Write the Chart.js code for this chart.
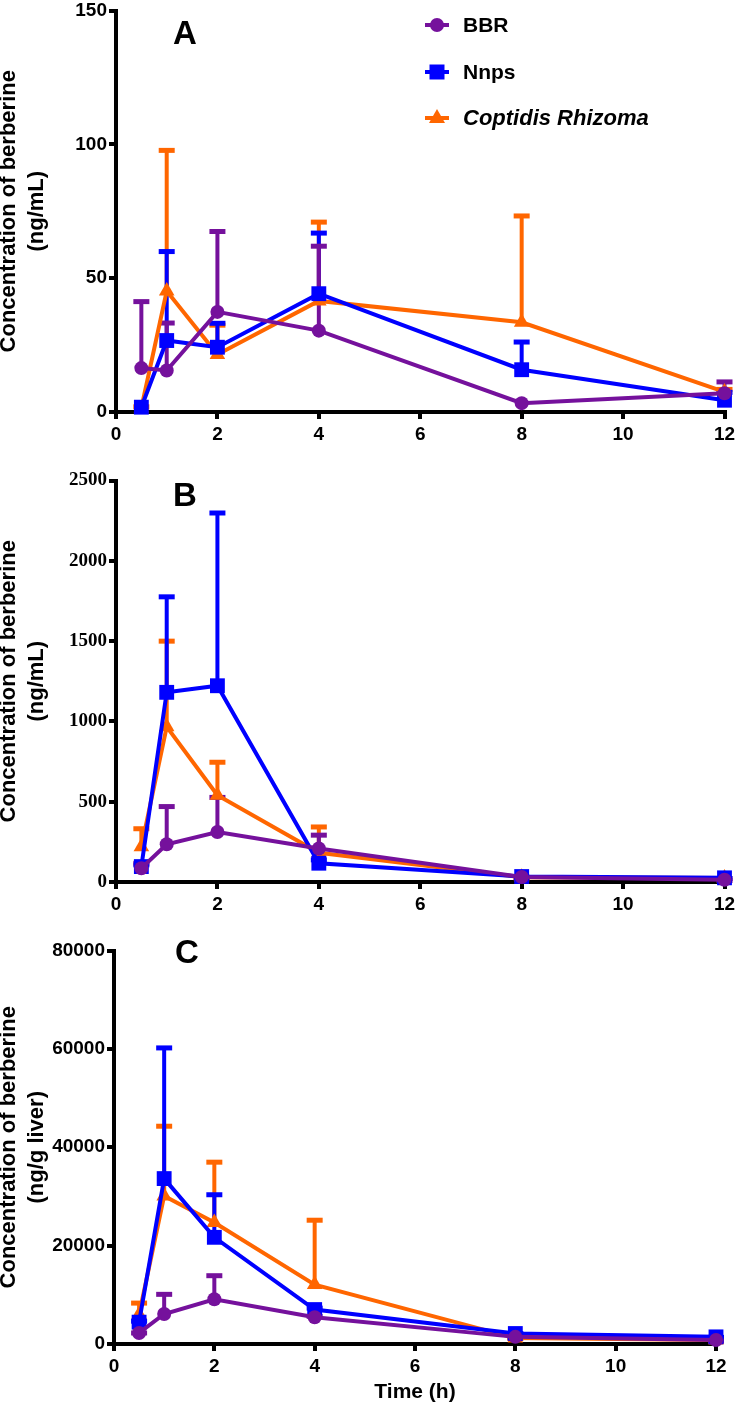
<!DOCTYPE html>
<html>
<head>
<meta charset="utf-8">
<script src="https://cdn.jsdelivr.net/npm/chart.js@4.4.0/dist/chart.umd.min.js"></script>
<style>
  body { margin: 0; background: #fff; }
  canvas { position: absolute; left: 0; }
</style>
</head>
<body>
<canvas id="panelA" width="735" height="450" style="top:0"></canvas>
<canvas id="panelB" width="735" height="450" style="top:470px"></canvas>
<canvas id="panelC" width="735" height="465" style="top:940px"></canvas>
<script>
// tiempos de muestreo (h)
var tiempos = [0.5, 1, 2, 4, 8, 12];

var nombres = ['BBR', 'Nnps', 'Coptidis Rhizoma'];
var colores = ['#75119c', '#0000ff', '#ff6600'];

// Panel A - plasma (ng/mL): medias y desviaciones (solo hacia arriba)
var bbrA = [16.4, 15.5, 37.4, 30.4, 3.3, 7.0];
var bbrA_sd = [25.4, 18.3, 30.6, 32.1, 0, 4.8];
var nnpsA = [1.8, 26.7, 24.2, 44.2, 15.8, 4.4];
var nnpsA_sd = [0, 33.8, 9.5, 23.2, 10.9, 3.5];
var coptA = [1.5, 45.2, 21.5, 41.5, 33.5, 7.5];
var coptA_sd = [1, 53.1, 11.5, 30, 40.3, 1.5];

// Panel B - plasma (ng/mL)
var bbrB = [86, 235, 311, 209, 31, 14];
var bbrB_sd = [40, 244, 225, 92, 5, 5];
var nnpsB = [96, 1181, 1222, 117, 34, 26];
var nnpsB_sd = [20, 604, 1085, 30, 5, 5];
var coptB = [219, 966, 540, 182, 30, 25];
var coptB_sd = [122, 543, 215, 170, 5, 5];

// Panel C - higado (ng/g liver)
var bbrC = [2250, 6100, 9090, 5430, 1450, 800];
var bbrC_sd = [300, 4300, 5100, 500, 200, 100];
var nnpsC = [4440, 33630, 21690, 7000, 2130, 1450];
var nnpsC_sd = [500, 26870, 8960, 600, 300, 200];
var coptC = [6000, 30100, 24680, 12080, 1200, 800];
var coptC_sd = [2620, 14480, 12590, 13390, 200, 100];

var estilosPunto = ['circle', 'rect', 'triangle'];
var radiosPunto = [7, 10.5, 9];

var SANS = '"Liberation Sans", Arial, sans-serif';

// Barras de error (solo superiores)
var barrasError = {
    id: 'barrasError',
    beforeDatasetsDraw: function (chart) {
        var ctx = chart.ctx;
        var sx = chart.scales.x, sy = chart.scales.y;
        for (var i = chart.data.datasets.length - 1; i >= 0; i--) {
            var ds = chart.data.datasets[i];
            ctx.save();
            ctx.strokeStyle = ds.borderColor;
            ds.data.forEach(function (p, j) {
                var sd = ds.sd[j];
                if (!sd) return;
                var px = sx.getPixelForValue(p.x);
                var y0 = sy.getPixelForValue(p.y);
                var y1 = sy.getPixelForValue(p.y + sd);
                ctx.lineWidth = 4;
                ctx.beginPath();
                ctx.moveTo(px, y0);
                ctx.lineTo(px, y1);
                ctx.stroke();
                ctx.lineWidth = 5;
                ctx.beginPath();
                ctx.moveTo(px - 8, y1 + 1.5);
                ctx.lineTo(px + 8, y1 + 1.5);
                ctx.stroke();
            });
            ctx.restore();
        }
    }
};

function dibujarMarcador(ctx, estilo, x, y, color) {
    ctx.fillStyle = color;
    ctx.beginPath();
    if (estilo === 'circle') {
        ctx.arc(x, y, 7, 0, Math.PI * 2);
    } else if (estilo === 'rect') {
        ctx.rect(x - 7.5, y - 7.5, 15, 15);
    } else {
        ctx.moveTo(x, y - 9);
        ctx.lineTo(x + 8, y + 5);
        ctx.lineTo(x - 8, y + 5);
        ctx.closePath();
    }
    ctx.fill();
}

// Letra del panel y leyenda
var textosPanel = {
    id: 'textosPanel',
    afterDraw: function (chart, args, opts) {
        var ctx = chart.ctx;
        ctx.save();
        ctx.fillStyle = '#000';
        ctx.font = 'bold 33px ' + SANS;
        ctx.textAlign = 'center';
        ctx.textBaseline = 'alphabetic';
        ctx.fillText(opts.letra, opts.lx, opts.ly);
        if (opts.leyenda) {
            var filas = [25, 72, 118];
            ctx.textBaseline = 'middle';
            for (var i = 0; i < nombres.length; i++) {
                ctx.strokeStyle = colores[i];
                ctx.lineWidth = 4;
                ctx.beginPath();
                ctx.moveTo(425, filas[i]);
                ctx.lineTo(449, filas[i]);
                ctx.stroke();
                dibujarMarcador(ctx, estilosPunto[i], 437, filas[i], colores[i]);
                ctx.fillStyle = '#000';
                ctx.textAlign = 'left';
                ctx.font = (i === 2 ? 'italic bold 22px ' : 'bold 21px ') + SANS;
                ctx.fillText(nombres[i], 463, filas[i] + 1);
            }
        }
        ctx.restore();
    }
};

function serie(valores, sd, i) {
    return {
        label: nombres[i],
        data: tiempos.map(function (t, j) { return { x: t, y: valores[j] }; }),
        sd: sd,
        borderColor: colores[i],
        backgroundColor: colores[i],
        borderWidth: 4,
        pointStyle: estilosPunto[i],
        pointRadius: radiosPunto[i],
        pointBackgroundColor: colores[i],
        pointBorderColor: colores[i],
        pointBorderWidth: 0,
        tension: 0,
        clip: false
    };
}

function crearPanel(id, series, cfg) {
    var fuenteTick = { family: SANS, weight: 'bold', size: 19 };
    return new Chart(document.getElementById(id), {
        type: 'line',
        data: { datasets: series },
        options: {
            responsive: false,
            animation: false,
            events: [],
            layout: { padding: { left: 0, right: cfg.padDer, top: cfg.padSup, bottom: 0 } },
            plugins: {
                legend: { display: false },
                tooltip: { enabled: false },
                textosPanel: cfg.textos
            },
            scales: {
                x: {
                    type: 'linear',
                    min: 0,
                    max: 12,
                    ticks: { stepSize: 2, color: '#000', font: fuenteTick, padding: 4, autoSkip: false, maxRotation: 0 },
                    grid: { drawOnChartArea: false, tickLength: 7, tickWidth: 4, lineWidth: 4, tickColor: '#000' },
                    border: { color: '#000', width: 4 },
                    title: {
                        display: !!cfg.tituloX,
                        text: cfg.tituloX || '',
                        color: '#000',
                        font: { family: SANS, weight: 'bold', size: 21, lineHeight: 1.2 },
                        padding: { top: 0, bottom: 0 }
                    },
                    afterFit: function (s) { s.height = cfg.altoX; s.paddingLeft = 0; s.paddingRight = 0; }
                },
                y: {
                    min: 0,
                    max: cfg.maxY,
                    ticks: {
                        stepSize: cfg.pasoY, color: '#000', font: cfg.fuenteY, padding: 2, autoSkip: false,
                        callback: function (v) { return String(v); }
                    },
                    grid: { drawOnChartArea: false, tickLength: 7, tickWidth: 4, lineWidth: 4, tickColor: '#000' },
                    border: { color: '#000', width: 4 },
                    title: {
                        display: true,
                        text: ['Concentration of berberine', cfg.unidad],
                        color: '#000',
                        font: { family: SANS, weight: 'bold', size: 22, lineHeight: 1.27 },
                        padding: { top: -5, bottom: 0 }
                    },
                    afterFit: function (s) { s.width = cfg.anchoY; s.paddingTop = 0; s.paddingBottom = 0; }
                }
            }
        },
        plugins: [barrasError, textosPanel]
    });
}

var fuenteSans = { family: SANS, weight: 'bold', size: 19 };
var fuenteSerif = { family: '"Liberation Serif", "Times New Roman", serif', weight: 'bold', size: 19 };

crearPanel('panelA', [serie(bbrA, bbrA_sd, 0), serie(nnpsA, nnpsA_sd, 1), serie(coptA, coptA_sd, 2)], {
    padDer: 10, padSup: 7, altoX: 38, anchoY: 116, maxY: 150, pasoY: 50, fuenteY: fuenteSans,
    unidad: '(ng/mL)', textos: { letra: 'A', lx: 185, ly: 44, leyenda: true }
});

crearPanel('panelB', [serie(bbrB, bbrB_sd, 0), serie(nnpsB, nnpsB_sd, 1), serie(coptB, coptB_sd, 2)], {
    padDer: 10, padSup: 5, altoX: 38, anchoY: 116, maxY: 2500, pasoY: 500, fuenteY: fuenteSerif,
    unidad: '(ng/mL)', textos: { letra: 'B', lx: 185, ly: 36, leyenda: false }
});

crearPanel('panelC', [serie(bbrC, bbrC_sd, 0), serie(nnpsC, nnpsC_sd, 1), serie(coptC, coptC_sd, 2)], {
    padDer: 19, padSup: 2, altoX: 61, anchoY: 114, maxY: 80000, pasoY: 20000, fuenteY: fuenteSans,
    unidad: '(ng/g liver)', tituloX: 'Time (h)', textos: { letra: 'C', lx: 187, ly: 23, leyenda: false }
});
</script>
</body>
</html>
